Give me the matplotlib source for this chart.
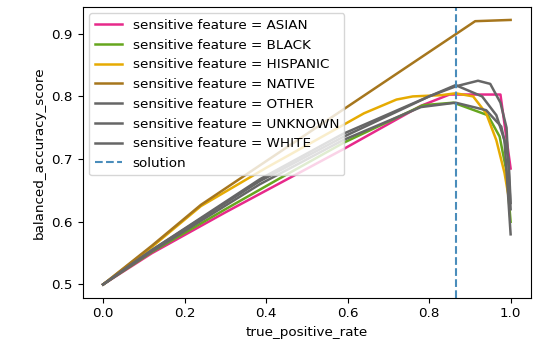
import numpy as np
import matplotlib
matplotlib.use("Agg")
import matplotlib.pyplot as plt

# per-group tradeoff curves
asian_x = [0.0, 0.12, 0.3, 0.59, 0.78, 0.85, 0.975, 1.0]
asian_y = [0.5, 0.55, 0.615, 0.716, 0.785, 0.803, 0.803, 0.685]

black_x = [0.0, 0.12, 0.3, 0.43, 0.59, 0.785, 0.86, 0.944, 0.973, 0.99, 1.0]
black_y = [0.5, 0.552, 0.62, 0.668, 0.726, 0.786, 0.79, 0.77, 0.736, 0.68, 0.6]

hispanic_x = [0.0, 0.12, 0.24, 0.4, 0.588, 0.64, 0.72, 0.76, 0.83, 0.865, 0.908, 0.94, 0.965, 0.985, 0.995]
hispanic_y = [0.5, 0.56, 0.625, 0.686, 0.754, 0.773, 0.795, 0.8, 0.802, 0.805, 0.8, 0.773, 0.73, 0.678, 0.64]

native_x = [0.0, 0.12, 0.24, 0.913, 1.0]
native_y = [0.5, 0.562, 0.627, 0.92, 0.922]

other_x = [0.0, 0.12, 0.385, 0.588, 0.8, 0.865, 0.92, 0.95, 0.975, 0.99, 1.0]
other_y = [0.5, 0.555, 0.668, 0.74, 0.8, 0.816, 0.825, 0.82, 0.79, 0.75, 0.62]

unknown_x = [0.0, 0.12, 0.385, 0.588, 0.8, 0.865, 0.93, 0.965, 0.985, 1.0]
unknown_y = [0.5, 0.555, 0.665, 0.735, 0.8, 0.818, 0.8, 0.77, 0.73, 0.58]

white_x = [0.0, 0.12, 0.385, 0.588, 0.78, 0.865, 0.94, 0.977, 0.995, 1.0]
white_y = [0.5, 0.553, 0.66, 0.73, 0.783, 0.79, 0.778, 0.752, 0.7, 0.63]

solution_x = 0.865

groups = ["ASIAN", "BLACK", "HISPANIC", "NATIVE", "OTHER", "UNKNOWN", "WHITE"]
curves = [(asian_x, asian_y), (black_x, black_y), (hispanic_x, hispanic_y),
          (native_x, native_y), (other_x, other_y), (unknown_x, unknown_y),
          (white_x, white_y)]
colors = ["#e7298a", "#66a61e", "#e6ab02", "#a6761d", "#666666", "#666666", "#666666"]

plt.rcParams['font.size'] = 9.7

fig, ax = plt.subplots(figsize=(5.42, 3.44), dpi=100)
fig.subplots_adjust(left=0.1526, right=0.9797, bottom=0.1346, top=0.9805)

for name, (x, y), c in zip(groups, curves, colors):
    ax.plot(x, y, color=c, lw=1.8, label="sensitive feature = " + name)

ax.axvline(solution_x, color="#4a8dbb", ls="--", lw=1.5, label="solution")

ax.set_xlabel("true_positive_rate")
ax.set_ylabel("balanced_accuracy_score")
ax.legend(loc="upper left")

plt.savefig("out.png")
